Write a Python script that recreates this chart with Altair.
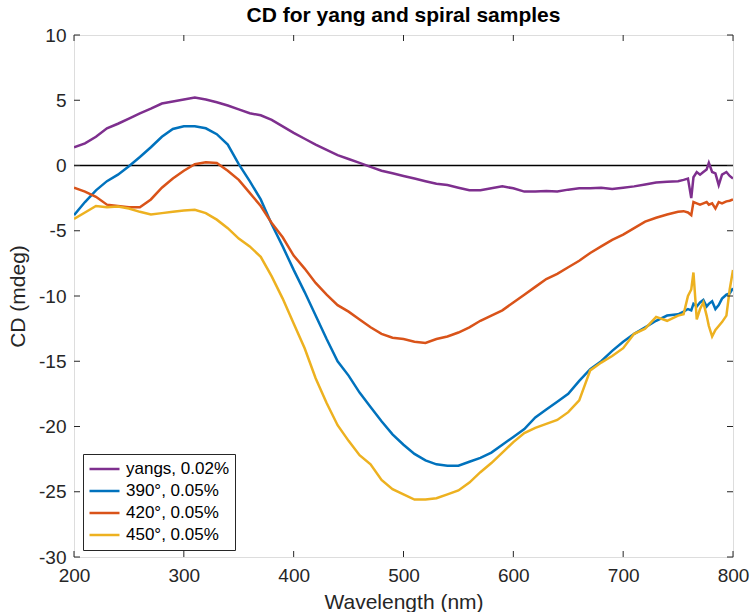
import altair as alt
import pandas as pd

WAVELENGTH = [200, 210, 220, 230, 240, 250, 260, 270, 280, 290,
              300, 310, 320, 330, 340, 350, 360, 370, 380, 390,
              400, 410, 420, 430, 440, 450, 460, 470, 480, 490,
              500, 510, 520, 530, 540, 550, 560, 570, 580, 590,
              600, 610, 620, 630, 640, 650, 660, 670, 680, 690,
              700, 710, 720, 730, 740, 750,
              755, 759, 762, 764, 767, 770, 773, 776, 778, 781,
              784, 787, 790, 794, 797, 800]

YANGS = [1.4, 1.7, 2.2, 2.85, 3.2, 3.6, 4.0, 4.35, 4.75, 4.9,
         5.05, 5.2, 5.05, 4.85, 4.6, 4.3, 4.0, 3.85, 3.5, 3.0,
         2.5, 2.05, 1.6, 1.2, 0.8, 0.5, 0.2, -0.1, -0.4, -0.6,
         -0.8, -1.0, -1.2, -1.4, -1.5, -1.7, -1.9, -1.9, -1.75, -1.6,
         -1.75, -2.0, -2.0, -1.95, -2.0, -1.85, -1.75, -1.75, -1.7, -1.8,
         -1.7, -1.6, -1.45, -1.3, -1.25, -1.2,
         -1.1, -1.0, -2.5, -0.9, -0.5, -0.7, -0.5, -0.3, 0.2, -0.5,
         -0.6, -1.5, -0.7, -0.5, -0.8, -1.0]

S390 = [-3.8, -2.8, -1.9, -1.2, -0.7, -0.05, 0.65, 1.4, 2.2, 2.8,
        3.0, 3.0, 2.85, 2.4, 1.6, 0.1, -1.2, -2.6, -4.5, -6.2,
        -8.0, -9.7, -11.5, -13.3, -15.0, -16.1, -17.4, -18.5, -19.6, -20.6,
        -21.4, -22.1, -22.6, -22.9, -23.0, -23.0, -22.7, -22.4, -22.0, -21.4,
        -20.8, -20.2, -19.3, -18.7, -18.1, -17.5, -16.5, -15.6, -15.0, -14.2,
        -13.5, -12.9, -12.4, -11.9, -11.5, -11.4,
        -11.2, -11.0, -11.1, -10.6, -10.8, -10.5, -10.3, -10.8, -10.6, -10.4,
        -11.0, -10.7, -10.2, -9.9, -9.8, -9.4]

S420 = [-1.7, -2.0, -2.4, -3.0, -3.1, -3.2, -3.2, -2.6, -1.7, -1.0,
        -0.4, 0.1, 0.25, 0.2, -0.4, -1.1, -2.1, -3.1, -4.4, -5.5,
        -6.9, -7.9, -9.0, -9.9, -10.7, -11.2, -11.8, -12.4, -12.9, -13.2,
        -13.3, -13.5, -13.6, -13.3, -13.1, -12.8, -12.4, -11.9, -11.5, -11.1,
        -10.5, -9.9, -9.3, -8.7, -8.3, -7.8, -7.3, -6.7, -6.2, -5.7,
        -5.3, -4.8, -4.3, -4.0, -3.75, -3.55,
        -3.5, -3.6, -3.8, -2.8, -2.9, -3.0, -2.9, -2.8, -3.0, -2.9,
        -3.3, -2.8, -2.9, -2.75, -2.7, -2.6]

S450 = [-4.1, -3.6, -3.1, -3.2, -3.15, -3.3, -3.55, -3.75, -3.65, -3.55,
        -3.45, -3.4, -3.65, -4.15, -4.8, -5.6, -6.2, -7.0, -8.5, -10.2,
        -12.1, -14.0, -16.3, -18.2, -19.9, -21.1, -22.2, -22.9, -24.1, -24.8,
        -25.2, -25.6, -25.6, -25.5, -25.2, -24.9, -24.3, -23.5, -22.8, -22.0,
        -21.2, -20.5, -20.1, -19.8, -19.5, -18.9, -18.0, -15.7, -15.1, -14.6,
        -14.0, -12.9, -12.5, -11.6, -11.9, -11.5,
        -11.4, -10.0, -9.5, -8.2, -11.8, -11.0, -10.5, -11.5, -12.3, -13.1,
        -12.6, -12.3, -12.0, -11.5, -9.5, -8.0]

SERIES = ["yangs, 0.02%", "390°, 0.05%", "420°, 0.05%", "450°, 0.05%"]
COLORS = ["#7E2F8E", "#0072BD", "#D95319", "#EDB120"]
X_TICKS = [200, 300, 400, 500, 600, 700, 800]
Y_TICKS = [-30, -25, -20, -15, -10, -5, 0, 5, 10]

rows = []
for name, vals in zip(SERIES, [YANGS, S390, S420, S450]):
    for w, v in zip(WAVELENGTH, vals):
        rows.append({"wl": w, "cd": v, "series": name})
df = pd.DataFrame(rows)

W, H = 659, 522
FONT = "Liberation Sans"
TXT = "#262626"
xs = alt.Scale(domain=[200, 800], nice=False, zero=False)
ys = alt.Scale(domain=[-30, 10], nice=False, zero=False)

xaxis = alt.Axis(values=X_TICKS, title="Wavelength (nm)", grid=False, domain=False,
                 ticks=False, labelFontSize=19, labelFont=FONT, labelColor=TXT,
                 labelPadding=9, labelFlush=False, titleFontSize=21, titleFont=FONT,
                 titleFontWeight="normal", titleColor=TXT, titlePadding=6,
                 labelExpr="'' + datum.value")
yaxis = alt.Axis(values=Y_TICKS, title="CD (mdeg)", grid=False, domain=False,
                 ticks=False, labelFontSize=19, labelFont=FONT, labelColor=TXT,
                 labelPadding=8, labelFlush=False, titleFontSize=21, titleFont=FONT,
                 titleFontWeight="normal", titleColor=TXT, titlePadding=10,
                 labelExpr="'' + datum.value")

zero = alt.Chart(pd.DataFrame({"y": [0]})).mark_rule(color="black", strokeWidth=1.5).encode(
    y=alt.Y("y:Q", scale=ys, axis=yaxis)
)

lines = alt.Chart(df).mark_line(strokeWidth=2.5, clip=True).encode(
    x=alt.X("wl:Q", scale=xs, axis=xaxis),
    y=alt.Y("cd:Q", scale=ys, axis=yaxis),
    color=alt.Color("series:N", scale=alt.Scale(domain=SERIES, range=COLORS),
                    legend=alt.Legend(title=None, orient="none", legendX=9, legendY=419,
                                      direction="vertical", symbolType="stroke",
                                      symbolSize=900, symbolStrokeWidth=2.5,
                                      clipHeight=20, rowPadding=2,
                                      labelFontSize=17, labelFont=FONT, labelColor="black",
                                      labelOffset=5, padding=5,
                                      strokeColor=TXT, fillColor="white")),
)

xt = pd.DataFrame({"v": X_TICKS})
yt = pd.DataFrame({"v": Y_TICKS})
tick_style = dict(color=TXT, strokeWidth=1)
bottom_ticks = alt.Chart(xt).mark_rule(**tick_style).encode(
    x=alt.X("v:Q", scale=xs), y=alt.value(H), y2=alt.value(H - 6))
top_ticks = alt.Chart(xt).mark_rule(**tick_style).encode(
    x=alt.X("v:Q", scale=xs), y=alt.value(0), y2=alt.value(6))
left_ticks = alt.Chart(yt).mark_rule(**tick_style).encode(
    y=alt.Y("v:Q", scale=ys), x=alt.value(0), x2=alt.value(6))
right_ticks = alt.Chart(yt).mark_rule(**tick_style).encode(
    y=alt.Y("v:Q", scale=ys), x=alt.value(W - 6), x2=alt.value(W))

chart = alt.layer(zero, lines, bottom_ticks, top_ticks, left_ticks, right_ticks).properties(
    width=W, height=H,
    title=alt.TitleParams("CD for yang and spiral samples", fontSize=21, fontWeight="bold",
                          font=FONT, color="black", anchor="middle", frame="group",
                          offset=0),
    autosize=alt.AutoSizeParams(type="none"),
    padding={"left": 74, "top": 35, "right": 20, "bottom": 55},
).configure_view(stroke=TXT, strokeWidth=1).configure(background="white")

chart.save("out.html", embed_options={"renderer": "svg", "actions": False})
